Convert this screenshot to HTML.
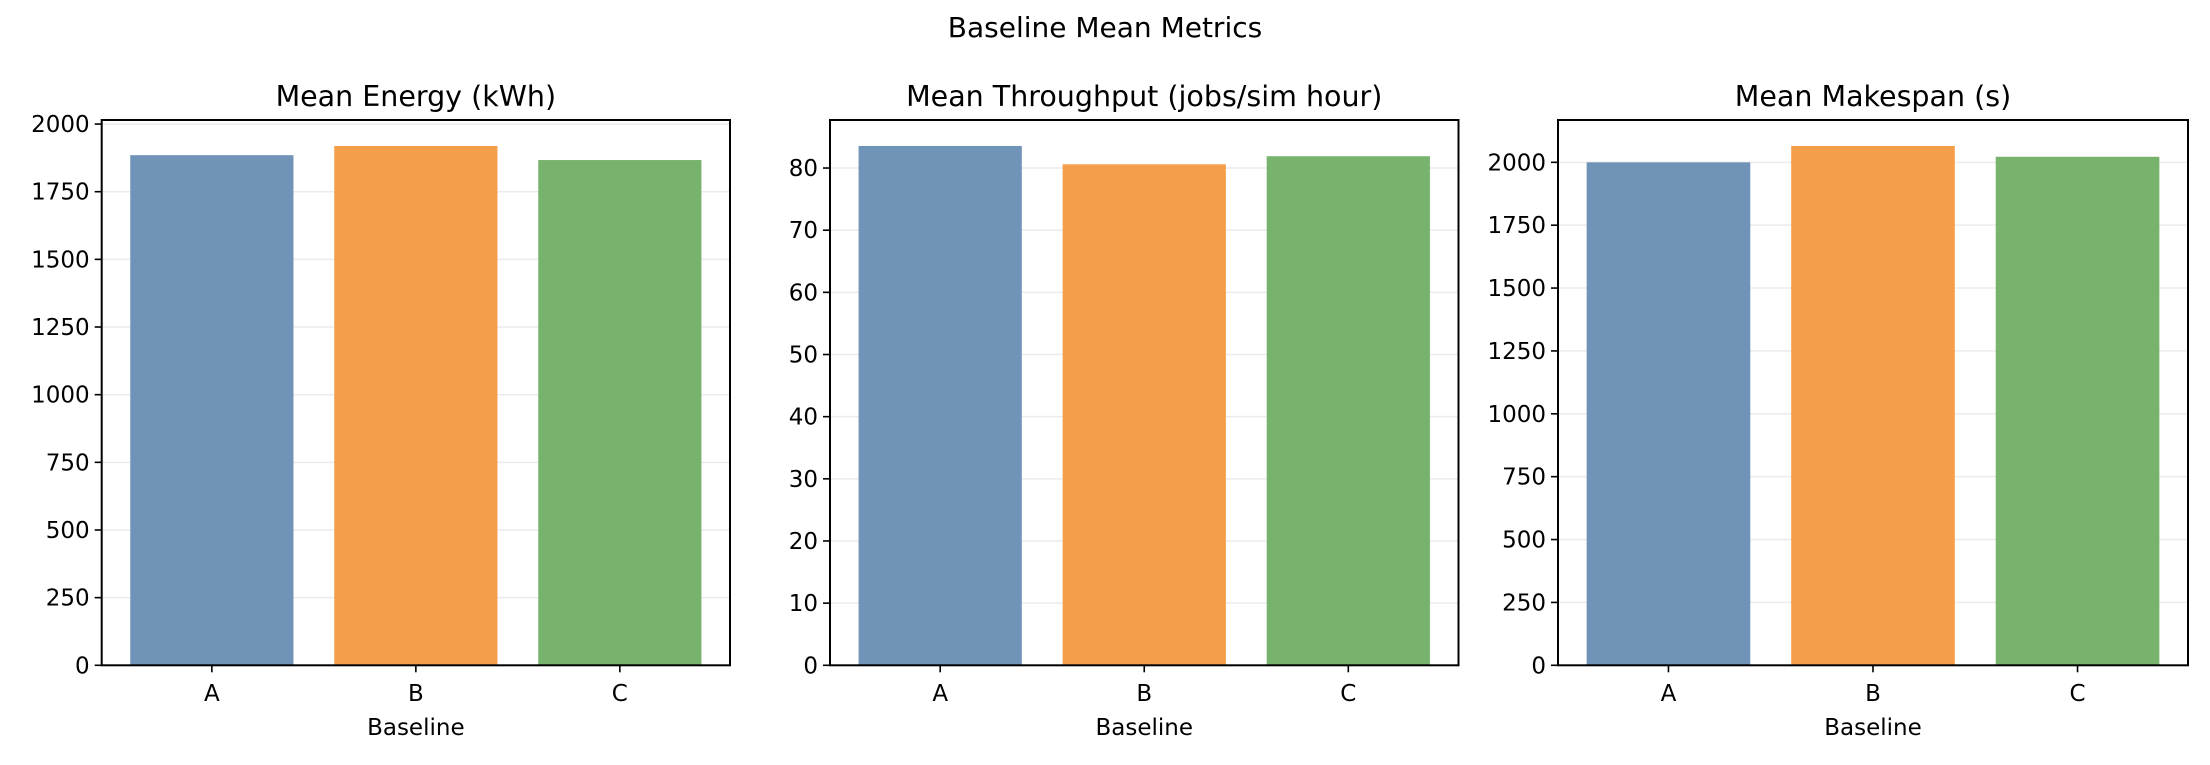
<!DOCTYPE html>
<html><head><meta charset="utf-8"><style>
html,body{margin:0;padding:0;background:#fff;}
svg{display:block;font-family:"DejaVu Sans","Liberation Sans",sans-serif;}
</style></head><body>
<svg id="fig" width="2210" height="765" viewBox="0 0 2210 765" xmlns="http://www.w3.org/2000/svg">
<text x="1105" y="37" text-anchor="middle" font-size="28" fill="#000">Baseline Mean Metrics</text>
</svg>
<script>
const categories = ["A", "B", "C"];
const energyValues = [1885, 1919, 1867];
const throughputValues = [83.55, 80.6, 81.9];
const makespanValues = [2000, 2065, 2022];
const energyTicks = [0, 250, 500, 750, 1000, 1250, 1500, 1750, 2000];
const throughputTicks = [0, 10, 20, 30, 40, 50, 60, 70, 80];
const makespanTicks = [0, 250, 500, 750, 1000, 1250, 1500, 1750, 2000];
const panelTitles = ["Mean Energy (kWh)", "Mean Throughput (jobs/sim hour)", "Mean Makespan (s)"];

const colors = ["#7093b8", "#f59e4a", "#78b36e"];
const NS = "http://www.w3.org/2000/svg";
const svg = document.getElementById("fig");
function mk(tag, attrs, parent){
  const e = document.createElementNS(NS, tag);
  for (const k in attrs) e.setAttribute(k, attrs[k]);
  (parent || svg).appendChild(e);
  return e;
}
const panels = [
  {left:101.7, right:730, values:energyValues, ticks:energyTicks, name:"energy"},
  {left:830, right:1458.5, values:throughputValues, ticks:throughputTicks, name:"throughput"},
  {left:1558, right:2188, values:makespanValues, ticks:makespanTicks, name:"makespan"}
];
const axTop = 120, axBottom = 665.3;
panels.forEach((p, pi) => {
  const g = mk("g", {});
  
  
  const ymax = Math.max(...p.values) * 1.05;
  const y = v => axBottom - v / ymax * (axBottom - axTop);
  const xmin = -0.54, xmax = categories.length - 1 + 0.54;
  const x = v => p.left + (v - xmin) / (xmax - xmin) * (p.right - p.left);
  p.ticks.forEach(t => {
    const gl = mk("line", {x1:p.left, x2:p.right, y1:y(t), y2:y(t), stroke:"#ebebeb", "stroke-width":1.5}, g);
    
    
  });
  p.values.forEach((v, i) => {
    const r = mk("rect", {x:x(i-0.4), y:y(v), width:x(i+0.4)-x(i-0.4), height:axBottom-y(v), fill:colors[i]}, g);
    
    
  });
  const fr = mk("rect", {x:p.left, y:axTop, width:p.right-p.left, height:axBottom-axTop, fill:"none", stroke:"#000", "stroke-width":2}, g);
  
  
  p.ticks.forEach(t => {
    mk("line", {x1:p.left-7, x2:p.left, y1:y(t), y2:y(t), stroke:"#000", "stroke-width":1.6}, g);
    const tl = mk("text", {x:p.left-12, y:y(t)+8, "text-anchor":"end", "font-size":23, fill:"#000"}, g);
    tl.textContent = t;
    
    
  });
  categories.forEach((c, i) => {
    mk("line", {x1:x(i), x2:x(i), y1:axBottom, y2:axBottom+7, stroke:"#000", "stroke-width":1.6}, g);
    const tl = mk("text", {x:x(i), y:701, "text-anchor":"middle", "font-size":23, fill:"#000"}, g);
    tl.textContent = c;
    
    
  });
  const xl = mk("text", {x:(p.left+p.right)/2, y:735, "text-anchor":"middle", "font-size":23, fill:"#000"}, g);
  xl.textContent = "Baseline";
  
  
  const tt = mk("text", {x:(p.left+p.right)/2, y:106, "text-anchor":"middle", "font-size":28.5, fill:"#000"}, g);
  tt.textContent = panelTitles[pi];
  
  
});
</script>
</body></html>
